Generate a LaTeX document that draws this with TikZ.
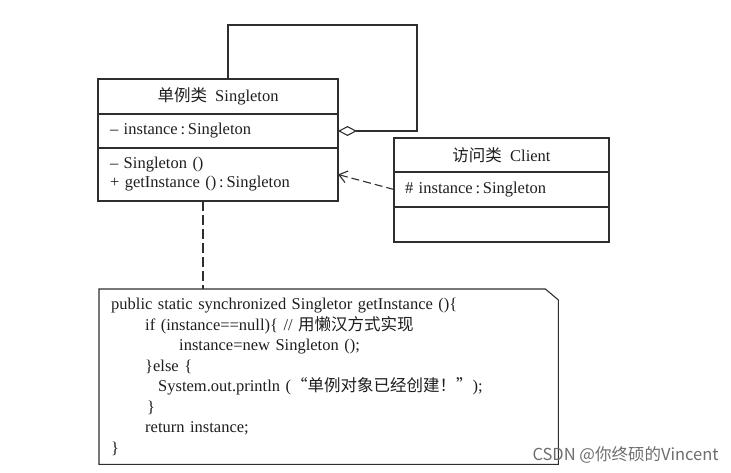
\documentclass[tikz,border=0pt]{standalone}
\usepackage{fontspec}
\setmainfont{Liberation Serif}
\newfontfamily\cjkfont{Noto Sans CJK SC}
\usetikzlibrary{arrows.meta,positioning}
\definecolor{umlink}{HTML}{2E2E2E}
\definecolor{umltext}{HTML}{1E1E1E}
\definecolor{markgray}{HTML}{6E6E6E}
\newcommand{\zh}[1]{{\cjkfont #1}}

\begin{document}
\begin{tikzpicture}[x=1pt,y=-1pt,node distance=0pt,
  classbox/.style={draw=umlink,line width=1.1pt,inner sep=0pt,outer sep=0pt,
                   text=umltext,font=\fontsize{16.5}{19}\selectfont},
  classhead/.style={classbox,align=center},
  classpart/.style={classbox,align=left,inner xsep=12pt},
  notebox/.style={inner sep=0pt,inner xsep=12pt,align=left,text=umltext,
                  font=\fontsize{16.5}{20.5}\selectfont},
  umlline/.style={draw=umlink,line width=1.1pt},
  agglink/.style={umlline,{Diamond[open,length=19pt,width=10pt]}-},
  deplink/.style={umlline,dash pattern=on 8pt off 4pt,
                  -{Straight Barb[length=8pt,width=12pt]}},
  notelink/.style={umlline,dash pattern=on 10pt off 4pt}]

  \useasboundingbox (0,0) rectangle (731,473);

  % 单例类
  \node[classhead,minimum width=240pt,minimum height=35pt,anchor=north west]
       (sgHead) at (98,79) {\zh{单例类}\ \ Singleton};
  \node[classpart,text width=216pt,minimum height=34pt,below=of sgHead]
       (sgAttr) {– instance\,:\,Singleton};
  \node[classpart,text width=216pt,minimum height=53pt,below=of sgAttr]
       (sgOps) {– Singleton ()\\+ getInstance ()\,:\,Singleton};

  % 访问类
  \node[classhead,minimum width=215pt,minimum height=34pt,anchor=north west]
       (clHead) at (394,138) {\zh{访问类}\ \ Client};
  \node[classpart,inner xsep=11pt,text width=193pt,minimum height=35pt,below=of clHead]
       (clAttr) {\# instance\,:\,Singleton};
  \node[classpart,inner xsep=11pt,text width=193pt,minimum height=35pt,below=of clAttr]
       (clOps) {};

  % 自关联（聚合）
  \draw[agglink] (sgAttr.east) -- ++(79,0)
        |- ([xshift=10pt,yshift=54pt]sgHead.north) -- ([xshift=10pt]sgHead.north);

  % 依赖
  \draw[deplink] (clAttr.west) -- (sgOps.east);

  % 注释
  \node[notebox,anchor=north west,minimum width=459pt,minimum height=175pt,
        text width=435pt] (note) at (99,289) {%
    public static synchronized Singletor getInstance ()\{\\
    \hspace*{34pt}if (instance==null)\{ // \zh{用懒汉方式实现}\\
    \hspace*{68pt}instance=new Singleton ();\\
    \hspace*{34pt}\}else \{\\
    \hspace*{47pt}System.out.println (\zh{“单例对象已经创建！”});\\
    \hspace*{36pt}\}\\
    \hspace*{34pt}return instance;\\
    \}};
  \draw[umlline] (note.north west) -- ([xshift=-13pt]note.north east)
        -- ([yshift=-11pt]note.north east) -- (note.south east)
        -- (note.south west) -- cycle;
  \draw[notelink] ([xshift=105pt]sgOps.south west)
        -- ([xshift=105pt]sgOps.south west |- note.north);

  % 水印
  \node[font=\cjkfont\fontsize{16.5}{16.5}\selectfont,text=markgray,anchor=west]
       (csdnMark) at (529,455) {CSDN @你终硕的Vincent};

\end{tikzpicture}
\end{document}
